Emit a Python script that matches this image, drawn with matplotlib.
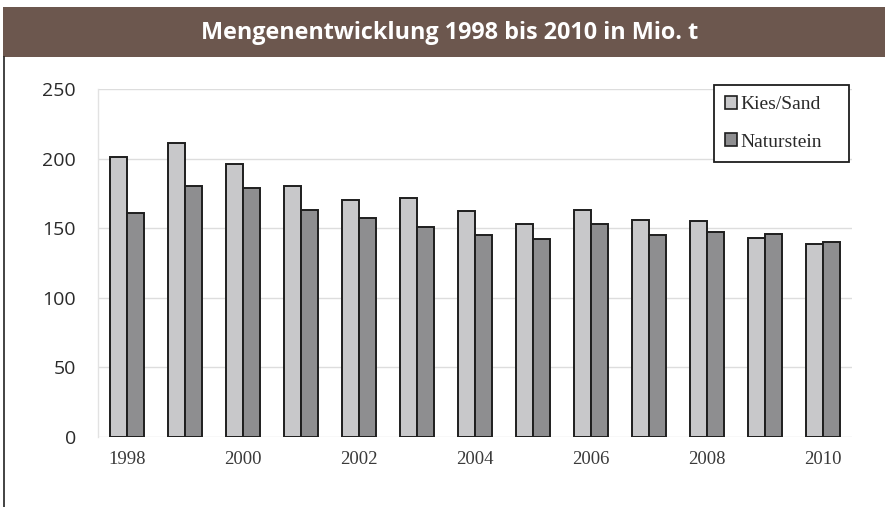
import matplotlib
matplotlib.use("Agg")
import matplotlib.pyplot as plt
import numpy as np
from matplotlib.patches import Rectangle, Patch
from matplotlib.lines import Line2D

years = list(range(1998, 2011))
kies_sand = [201, 211, 196, 180, 170, 172, 162, 153, 163, 156, 155, 143, 139]
naturstein = [161, 180, 179, 163, 157, 151, 145, 142, 153, 145, 147, 146, 140]
tick_years = [1998, 2000, 2002, 2004, 2006, 2008, 2010]
series_names = ["Kies/Sand", "Naturstein"]
title = "Mengenentwicklung 1998 bis 2010 in Mio. t"

W, H = 885, 507
fig = plt.figure(figsize=(W / 100, H / 100), dpi=100)

def fx(px):
    return px / W

def fy(py):
    return 1 - py / H

# header band
fig.patches.append(Rectangle((fx(3), fy(57)), fx(885 - 3), (50) / H,
                             transform=fig.transFigure, facecolor="#6C574E",
                             edgecolor="none", zorder=0))
fig.text(fx(450), fy(33), title, color="white", fontsize=16.8, fontweight="bold",
         family="Open Sans", ha="center", va="center")
# left border line
fig.lines.append(Line2D([fx(4), fx(4)], [fy(57), 0], transform=fig.transFigure,
                        color="#222222", linewidth=1.2))

ax = fig.add_axes([fx(98), fy(437), fx(852 - 98), (437 - 89) / H])
x = np.arange(len(years))
w = 0.29
ax.bar(x - w / 2, kies_sand, width=w, color="#C8C8CA", edgecolor="#1e1e1e",
       linewidth=1.4, label=series_names[0], zorder=3)
ax.bar(x + w / 2, naturstein, width=w, color="#8E8E90", edgecolor="#1e1e1e",
       linewidth=1.4, label=series_names[1], zorder=3)

ax.set_xlim(-0.5, len(years) - 0.5)
ax.set_ylim(0, 250)
ax.set_yticks([0, 50, 100, 150, 200, 250])
ax.yaxis.grid(True, color="#DDDDDD", linewidth=1.0, zorder=0)
ax.set_axisbelow(True)
for s in ["top", "right", "bottom"]:
    ax.spines[s].set_visible(False)
ax.spines["left"].set_color("#E2E2E2")
ax.spines["left"].set_linewidth(1.0)
ax.tick_params(axis="y", length=0, pad=16, labelsize=14, labelcolor="#2a2a2a")
for lbl in ax.get_yticklabels():
    lbl.set_family("Open Sans")
ax.set_xticks([years.index(y) for y in tick_years])
ax.set_xticklabels([str(y) for y in tick_years], family="Liberation Serif",
                   fontsize=13.5, color="#3a3a3a")
ax.tick_params(axis="x", length=0, pad=10)

handles = [Patch(facecolor="#C8C8CA", edgecolor="#1e1e1e", linewidth=1.2),
           Patch(facecolor="#8E8E90", edgecolor="#1e1e1e", linewidth=1.2)]
leg = fig.legend(handles, series_names, loc="upper left",
                 bbox_to_anchor=(fx(716), fy(87)), frameon=False,
                 prop={"family": "Liberation Serif", "size": 14},
                 handlelength=0.65, handleheight=0.65, handletextpad=0.15,
                 labelspacing=1.05, borderpad=0.45, borderaxespad=0)
for t in leg.get_texts():
    t.set_color("#2a2a2a")
# legend frame
fig.patches.append(Rectangle((fx(714), fy(162)), fx(849 - 714), (162 - 85) / H,
                             transform=fig.transFigure, facecolor="white",
                             edgecolor="#1e1e1e", linewidth=1.3, zorder=4))
leg.set_zorder(5)

fig.savefig("out.png", dpi=100)
